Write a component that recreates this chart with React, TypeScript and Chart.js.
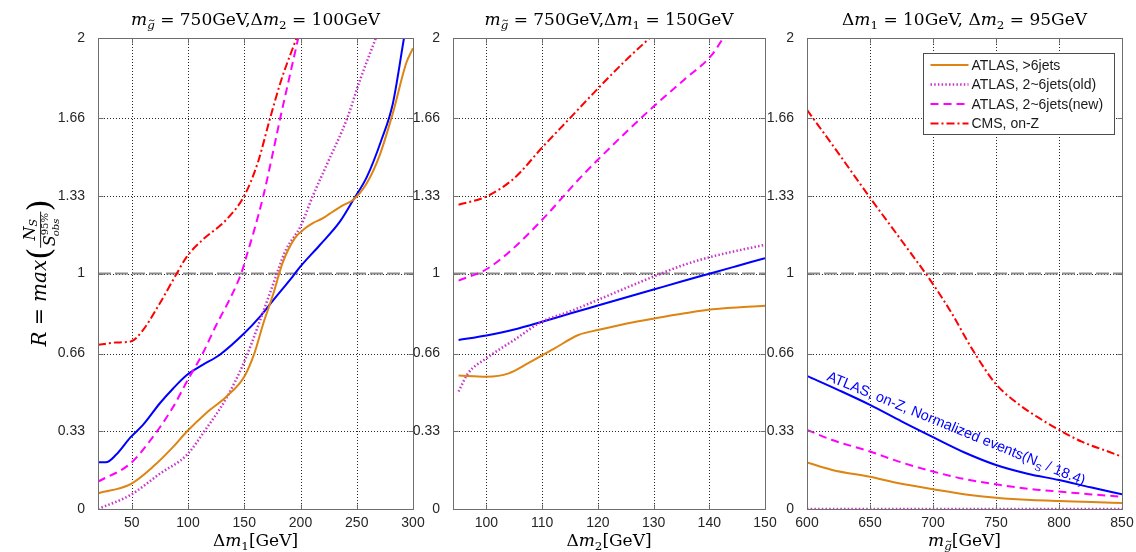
import React, { useEffect, useRef } from 'react';
import { Chart, registerables } from 'chart.js';
Chart.register(...registerables);

// ---------------- data ----------------
const SERIES_NAMES = ['ATLAS, >6jets', 'ATLAS, 2~6jets(old)', 'ATLAS, 2~6jets(new)', 'CMS, on-Z'];
const BLUE_TEXT_A = 'ATLAS, on-Z, Normalized events(N';
const BLUE_TEXT_SUB = 'S';
const BLUE_TEXT_B = ' / 18.4)';

const Y_TICKS = [0, 0.33, 0.66, 1, 1.33, 1.66, 2];
const Y_TICK_LABELS = ['0', '0.33', '0.66', '1', '1.33', '1.66', '2'];
const Y_LIMITS = [0, 2];
const R_THRESHOLD = [1, 1];

// Panel 1: m_gluino = 750 GeV, dm2 = 100 GeV, x = dm1
const P1_X_LIMITS = [20, 300];
const P1_X_TICKS = [50, 100, 150, 200, 250, 300];
const P1_ORANGE_X = [20, 49, 69, 87, 99, 116, 134, 150, 159, 167, 176, 184, 195, 205, 211, 220, 226, 238, 247, 259, 270, 282, 294, 300];
const P1_ORANGE_Y = [0.067, 0.106, 0.18, 0.265, 0.329, 0.407, 0.477, 0.562, 0.661, 0.789, 0.916, 1.044, 1.15, 1.195, 1.214, 1.235, 1.254, 1.29, 1.313, 1.384, 1.497, 1.68, 1.894, 1.957];
const P1_OLD_X = [20, 49, 75, 99, 116, 134, 150, 164, 176, 187, 200, 211, 224, 241, 253, 267];
const P1_OLD_Y = [0, 0.06, 0.15, 0.23, 0.34, 0.47, 0.625, 0.8, 0.959, 1.1, 1.2, 1.33, 1.469, 1.653, 1.823, 2.0];
const P1_NEW_X = [20, 49, 69, 87, 99, 113, 125, 137, 143, 148, 153, 158, 167, 174, 182, 190, 198];
const P1_NEW_Y = [0.116, 0.194, 0.307, 0.435, 0.541, 0.66, 0.78, 0.89, 0.95, 1.01, 1.09, 1.17, 1.33, 1.48, 1.66, 1.83, 2.0];
const P1_CMS_X = [20, 36, 49, 60, 75, 90, 99, 113, 134, 150, 162, 173, 183, 196.5];
const P1_CMS_Y = [0.697, 0.707, 0.711, 0.76, 0.874, 1.0, 1.072, 1.143, 1.228, 1.33, 1.47, 1.66, 1.823, 2.0];
const P1_BLUE_X = [20, 27, 36, 49, 60, 75, 87, 99, 113, 128, 150, 164, 176, 193, 200, 217, 235, 247, 259, 272, 282, 292];
const P1_BLUE_Y = [0.198, 0.198, 0.23, 0.305, 0.357, 0.449, 0.513, 0.569, 0.612, 0.654, 0.746, 0.817, 0.888, 0.987, 1.03, 1.12, 1.22, 1.313, 1.41, 1.568, 1.72, 2.0];

// Panel 2: m_gluino = 750 GeV, dm1 = 150 GeV, x = dm2
const P2_X_LIMITS = [94, 150];
const P2_X_TICKS = [100, 110, 120, 130, 140, 150];
const P2_ORANGE_X = [95, 100, 104, 107.5, 112.3, 116.5, 120.2, 125.4, 130.3, 135.6, 140.6, 150];
const P2_ORANGE_Y = [0.567, 0.562, 0.576, 0.619, 0.683, 0.739, 0.761, 0.789, 0.81, 0.831, 0.848, 0.863];
const P2_OLD_X = [95, 96.7, 100, 105, 110, 115, 120, 125, 130, 135.5, 140.5, 150];
const P2_OLD_Y = [0.499, 0.576, 0.64, 0.718, 0.796, 0.839, 0.888, 0.938, 0.987, 1.037, 1.072, 1.122];
const P2_NEW_X = [95, 100, 104.5, 110, 116.5, 120, 125.5, 130, 135.5, 140.5, 142.5];
const P2_NEW_Y = [0.97, 1.018, 1.1, 1.228, 1.398, 1.483, 1.61, 1.709, 1.823, 1.929, 2.0];
const P2_CMS_X = [95, 100, 105, 110, 115, 120, 125, 129.3];
const P2_CMS_Y = [1.292, 1.327, 1.405, 1.535, 1.66, 1.785, 1.905, 2.0];
const P2_BLUE_X = [95, 100, 105, 110, 115, 120, 125, 130, 135, 140, 145, 150];
const P2_BLUE_Y = [0.718, 0.737, 0.762, 0.795, 0.83, 0.864, 0.898, 0.932, 0.966, 0.999, 1.032, 1.065];

// Panel 3: dm1 = 10 GeV, dm2 = 95 GeV, x = m_gluino
const P3_X_LIMITS = [600, 850];
const P3_X_TICKS = [600, 650, 700, 750, 800, 850];
const P3_ORANGE_X = [600, 620, 650, 673, 700, 726, 750, 778, 800, 826, 850];
const P3_ORANGE_Y = [0.198, 0.166, 0.137, 0.109, 0.084, 0.062, 0.048, 0.038, 0.034, 0.03, 0.025];
const P3_OLD_X = [600, 650, 700, 750, 800, 850];
const P3_OLD_Y = [0, 0, 0, 0, 0, 0];
const P3_NEW_X = [600, 620, 650, 673, 700, 726, 750, 778, 800, 826, 850];
const P3_NEW_Y = [0.336, 0.293, 0.244, 0.201, 0.159, 0.126, 0.105, 0.084, 0.074, 0.062, 0.052];
const P3_CMS_X = [600, 625, 650, 675, 700, 715, 731, 750, 768, 786, 800, 818, 839, 850];
const P3_CMS_Y = [1.695, 1.51, 1.322, 1.14, 0.955, 0.83, 0.68, 0.53, 0.445, 0.38, 0.336, 0.286, 0.244, 0.222];
const P3_BLUE_X = [600, 625, 650, 675, 700, 725, 750, 775, 800, 825, 850];
const P3_BLUE_Y = [0.565, 0.505, 0.442, 0.372, 0.305, 0.24, 0.187, 0.15, 0.123, 0.092, 0.062];
const P3_BLUE_LABEL_AT = [615, 0.548];
const P3_BLUE_LABEL_ANGLE = 22.3;

// ---------------- styles ----------------
const STYLE: Record<string, { color: string; width: number; dash: number[] }> = {
  orange: { color: '#DE8412', width: 2, dash: [] },
  old: { color: '#C934C9', width: 2.5, dash: [1.5, 2.2] },
  neu: { color: '#FF00FF', width: 2, dash: [8, 5] },
  red: { color: '#FF0000', width: 2, dash: [8, 3, 2, 3] },
  blue: { color: '#0000FF', width: 2, dash: [] },
  gray: { color: '#8C8C8C', width: 2, dash: [13, 4] },
};
const LEGEND_KEYS = ['orange', 'old', 'neu', 'red'];

const SERIF = '"DejaVu Serif", "Liberation Serif", serif';
const SANS = '"Liberation Sans", Arial, sans-serif';
const TICK_COLOR = '#262626';
const AXIS_COLOR = '#6E6E6E';

type Seg = { t: string; it?: boolean; s?: number; dy?: number; tilde?: boolean };
const SUB = 0.7;
const SUBDY = 0.22;

const TITLE_1: Seg[] = [
  { t: 'm', it: true }, { t: 'g', it: true, s: SUB, dy: SUBDY, tilde: true },
  { t: ' = 750GeV,' }, { t: 'Δ' }, { t: 'm', it: true }, { t: '2', s: SUB, dy: SUBDY }, { t: ' = 100GeV' },
];
const TITLE_2: Seg[] = [
  { t: 'm', it: true }, { t: 'g', it: true, s: SUB, dy: SUBDY, tilde: true },
  { t: ' = 750GeV,' }, { t: 'Δ' }, { t: 'm', it: true }, { t: '1', s: SUB, dy: SUBDY }, { t: ' = 150GeV' },
];
const TITLE_3: Seg[] = [
  { t: 'Δ' }, { t: 'm', it: true }, { t: '1', s: SUB, dy: SUBDY }, { t: ' = 10GeV, ' },
  { t: 'Δ' }, { t: 'm', it: true }, { t: '2', s: SUB, dy: SUBDY }, { t: ' = 95GeV' },
];
const XLAB_1: Seg[] = [{ t: 'Δ' }, { t: 'm', it: true }, { t: '1', s: SUB, dy: SUBDY }, { t: '[GeV]' }];
const XLAB_2: Seg[] = [{ t: 'Δ' }, { t: 'm', it: true }, { t: '2', s: SUB, dy: SUBDY }, { t: '[GeV]' }];
const XLAB_3: Seg[] = [{ t: 'm', it: true }, { t: 'g', it: true, s: SUB, dy: SUBDY, tilde: true }, { t: '[GeV]' }];

function segFont(seg: Seg, base: number) {
  return `${seg.it ? 'italic ' : ''}${(seg.s ?? 1) * base}px ${SERIF}`;
}
function richWidth(ctx: CanvasRenderingContext2D, segs: Seg[], base: number) {
  let w = 0;
  for (const s of segs) {
    ctx.font = segFont(s, base);
    w += ctx.measureText(s.t).width;
  }
  return w;
}
function drawTilde(ctx: CanvasRenderingContext2D, cx: number, y: number, w: number, color: string) {
  const h = w * 0.22;
  ctx.save();
  ctx.strokeStyle = color;
  ctx.lineWidth = 0.9;
  ctx.beginPath();
  ctx.moveTo(cx - w / 2, y + h / 2);
  ctx.bezierCurveTo(cx - w / 6, y - h * 1.6, cx + w / 6, y + h * 1.6, cx + w / 2, y - h / 2);
  ctx.stroke();
  ctx.restore();
}
function drawRich(ctx: CanvasRenderingContext2D, segs: Seg[], x: number, y: number, base: number, color: string) {
  ctx.fillStyle = color;
  ctx.textAlign = 'left';
  ctx.textBaseline = 'alphabetic';
  let cx = x;
  for (const s of segs) {
    ctx.font = segFont(s, base);
    const w = ctx.measureText(s.t).width;
    const yy = y + (s.dy ?? 0) * base;
    ctx.fillText(s.t, cx, yy);
    if (s.tilde) {
      const size = (s.s ?? 1) * base;
      drawTilde(ctx, cx + w * 0.6, yy - size * 0.7, size * 0.45, color);
    }
    cx += w;
  }
  return cx;
}
function drawRichCentered(ctx: CanvasRenderingContext2D, segs: Seg[], cx: number, y: number, base: number, color: string) {
  const w = richWidth(ctx, segs, base);
  drawRich(ctx, segs, cx - w / 2, y, base, color);
}

function drawYLabel(ctx: CanvasRenderingContext2D, baseX: number, centerY: number) {
  const base = 20;
  const color = '#000';
  ctx.save();
  ctx.translate(baseX, centerY);
  ctx.rotate(-Math.PI / 2);
  const head: Seg[] = [{ t: 'R', it: true }, { t: ' = ' }, { t: 'max', it: true }];
  const num: Seg[] = [{ t: 'N', it: true, s: 0.8 }, { t: 'S', it: true, s: 0.55, dy: 0.14 }];
  const denS: Seg = { t: 'S', it: true, s: 0.8 };
  const sup: Seg = { t: '95%', s: 0.5 };
  const sub: Seg = { t: 'obs', it: true, s: 0.5 };
  const P = base * 1.55;
  ctx.font = `${P}px ${SERIF}`;
  const parW = ctx.measureText('(').width;
  const headW = richWidth(ctx, head, base);
  const numW = richWidth(ctx, num, base);
  ctx.font = segFont(denS, base);
  const sW = ctx.measureText('S').width;
  ctx.font = segFont(sup, base);
  const supW = ctx.measureText(sup.t).width;
  ctx.font = segFont(sub, base);
  const subW = ctx.measureText(sub.t).width;
  const denW = sW + Math.max(supW, subW);
  const fracW = Math.max(numW, denW) + 3;
  const total = headW + parW + fracW + parW;
  let x = -total / 2;
  const axis = -0.27 * base;
  drawRich(ctx, head, x, 0, base, color);
  x += headW;
  ctx.font = `${P}px ${SERIF}`;
  ctx.fillStyle = color;
  ctx.fillText('(', x, axis + 0.3 * P);
  x += parW;
  drawRich(ctx, num, x + (fracW - numW) / 2, axis - 0.3 * base, base, color);
  ctx.fillStyle = color;
  ctx.fillRect(x, axis - 0.4, fracW, 0.9);
  const dx = x + (fracW - denW) / 2;
  const denBase = axis + 0.72 * base;
  drawRich(ctx, [denS], dx, denBase, base, color);
  drawRich(ctx, [sup], dx + sW, denBase - 0.36 * base, base, color);
  drawRich(ctx, [sub], dx + sW - 1, denBase + 0.18 * base, base, color);
  x += fracW;
  ctx.font = `${P}px ${SERIF}`;
  ctx.fillStyle = color;
  ctx.fillText(')', x, axis + 0.3 * P);
  ctx.restore();
}

type Series = [number[], number[], string];
type Panel = {
  key: string; left: number; width: number; yAxisW: number; padR: number;
  xLim: number[]; xTicks: number[]; series: Series[]; title: Seg[]; xlabel: Seg[];
  ylabel?: boolean; legend?: boolean; blueLabel?: boolean;
};

const PANELS: Panel[] = [
  {
    key: 'p1', left: 0, width: 430, yAxisW: 98, padR: 17, xLim: P1_X_LIMITS, xTicks: P1_X_TICKS,
    series: [
      [P1_ORANGE_X, P1_ORANGE_Y, 'orange'], [P1_OLD_X, P1_OLD_Y, 'old'], [P1_NEW_X, P1_NEW_Y, 'neu'],
      [P1_CMS_X, P1_CMS_Y, 'red'], [P1_BLUE_X, P1_BLUE_Y, 'blue'],
    ],
    title: TITLE_1, xlabel: XLAB_1, ylabel: true,
  },
  {
    key: 'p2', left: 395, width: 385, yAxisW: 58, padR: 15, xLim: P2_X_LIMITS, xTicks: P2_X_TICKS,
    series: [
      [P2_ORANGE_X, P2_ORANGE_Y, 'orange'], [P2_OLD_X, P2_OLD_Y, 'old'], [P2_NEW_X, P2_NEW_Y, 'neu'],
      [P2_CMS_X, P2_CMS_Y, 'red'], [P2_BLUE_X, P2_BLUE_Y, 'blue'],
    ],
    title: TITLE_2, xlabel: XLAB_2,
  },
  {
    key: 'p3', left: 750, width: 386, yAxisW: 57, padR: 14, xLim: P3_X_LIMITS, xTicks: P3_X_TICKS,
    series: [
      [P3_ORANGE_X, P3_ORANGE_Y, 'orange'], [P3_OLD_X, P3_OLD_Y, 'old'], [P3_NEW_X, P3_NEW_Y, 'neu'],
      [P3_CMS_X, P3_CMS_Y, 'red'], [P3_BLUE_X, P3_BLUE_Y, 'blue'],
    ],
    title: TITLE_3, xlabel: XLAB_3, legend: true, blueLabel: true,
  },
];

function dataset(xs: number[], ys: number[], styleKey: string, label: string) {
  const st = STYLE[styleKey];
  return {
    label,
    data: xs.map((x, i) => ({ x, y: ys[i] })),
    borderColor: st.color,
    backgroundColor: st.color,
    borderWidth: st.width,
    borderDash: st.dash,
    borderCapStyle: 'butt' as const,
    pointRadius: 0,
    fill: false,
    cubicInterpolationMode: 'monotone' as const,
  };
}

function decorPlugin(p: Panel) {
  return {
    id: 'decor_' + p.key,
    beforeDatasetsDraw(chart: any) {
      const { ctx, chartArea: ca, scales } = chart;
      ctx.save();
      ctx.strokeStyle = '#262626';
      ctx.lineWidth = 1;
      ctx.setLineDash([1, 2]);
      for (const v of p.xTicks) {
        if (v <= p.xLim[0] || v >= p.xLim[1]) continue;
        const x = Math.round(scales.x.getPixelForValue(v)) + 0.5;
        ctx.beginPath(); ctx.moveTo(x, ca.top); ctx.lineTo(x, ca.bottom); ctx.stroke();
      }
      for (const v of Y_TICKS) {
        if (v <= Y_LIMITS[0] || v >= Y_LIMITS[1]) continue;
        const y = Math.round(scales.y.getPixelForValue(v)) + 0.5;
        ctx.beginPath(); ctx.moveTo(ca.left, y); ctx.lineTo(ca.right, y); ctx.stroke();
      }
      ctx.restore();
    },
    afterDatasetsDraw(chart: any) {
      const { ctx, chartArea: ca, scales } = chart;
      ctx.save();
      ctx.strokeStyle = AXIS_COLOR;
      ctx.lineWidth = 1;
      ctx.setLineDash([]);
      const l = Math.round(ca.left) + 0.5, r = Math.round(ca.right) + 0.5;
      const t = Math.round(ca.top) + 0.5, b = Math.round(ca.bottom) + 0.5;
      ctx.strokeRect(l, t, r - l, b - t);
      const TL = 5;
      ctx.beginPath();
      for (const v of p.xTicks) {
        const x = Math.round(scales.x.getPixelForValue(v)) + 0.5;
        ctx.moveTo(x, b); ctx.lineTo(x, b - TL);
        ctx.moveTo(x, t); ctx.lineTo(x, t + TL);
      }
      for (const v of Y_TICKS) {
        const y = Math.round(scales.y.getPixelForValue(v)) + 0.5;
        ctx.moveTo(l, y); ctx.lineTo(l + TL, y);
        ctx.moveTo(r, y); ctx.lineTo(r - TL, y);
      }
      ctx.stroke();

      if (p.blueLabel) {
        const px = scales.x.getPixelForValue(P3_BLUE_LABEL_AT[0]);
        const py = scales.y.getPixelForValue(P3_BLUE_LABEL_AT[1]);
        ctx.translate(px, py);
        ctx.rotate((P3_BLUE_LABEL_ANGLE * Math.PI) / 180);
        ctx.fillStyle = STYLE.blue.color;
        ctx.textAlign = 'left';
        ctx.textBaseline = 'alphabetic';
        ctx.font = `14.5px ${SANS}`;
        ctx.fillText(BLUE_TEXT_A, 0, 0);
        let w = ctx.measureText(BLUE_TEXT_A).width;
        ctx.font = `10px ${SANS}`;
        ctx.fillText(BLUE_TEXT_SUB, w, 4);
        w += ctx.measureText(BLUE_TEXT_SUB).width;
        ctx.font = `14.5px ${SANS}`;
        ctx.fillText(BLUE_TEXT_B, w, 0);
      }
      ctx.restore();

      if (p.legend) {
        ctx.save();
        const bw = 191, bh = 81;
        const bx = Math.round(ca.right - 8 - bw) + 0.5;
        const by = Math.round(ca.top + 15) + 0.5;
        ctx.fillStyle = '#fff';
        ctx.fillRect(bx, by, bw, bh);
        ctx.strokeStyle = '#4d4d4d';
        ctx.lineWidth = 1;
        ctx.strokeRect(bx, by, bw, bh);
        ctx.font = `14px ${SANS}`;
        ctx.textAlign = 'left';
        ctx.textBaseline = 'middle';
        LEGEND_KEYS.forEach((k, i) => {
          const st = STYLE[k];
          const yy = by + 11.5 + i * 19.5;
          ctx.strokeStyle = st.color;
          ctx.lineWidth = st.width;
          ctx.setLineDash(st.dash);
          ctx.beginPath(); ctx.moveTo(bx + 7, yy); ctx.lineTo(bx + 45, yy); ctx.stroke();
          ctx.setLineDash([]);
          ctx.fillStyle = '#1a1a1a';
          ctx.fillText(SERIES_NAMES[i], bx + 48, yy + 1);
        });
        ctx.restore();
      }
    },
    afterDraw(chart: any) {
      const { ctx, chartArea: ca } = chart;
      ctx.save();
      const cx = (ca.left + ca.right) / 2;
      drawRichCentered(ctx, p.title, cx, 25, 17, '#000');
      drawRichCentered(ctx, p.xlabel, cx, 546, 17, '#000');
      if (p.ylabel) drawYLabel(ctx, 46, 273);
      ctx.restore();
    },
  };
}

function PanelChart({ p }: { p: Panel }) {
  const ref = useRef<HTMLCanvasElement | null>(null);
  useEffect(() => {
    if (!ref.current) return;
    const datasets: any[] = p.series.map(([xs, ys, k], i) =>
      dataset(xs, ys, k, k === 'blue' ? 'ATLAS, on-Z' : SERIES_NAMES[i]));
    datasets.push(dataset(p.xLim, R_THRESHOLD, 'gray', 'R = 1'));
    const tickFont = { family: SANS, size: 14 };
    const chart = new Chart(ref.current, {
      type: 'line',
      data: { datasets },
      options: {
        animation: false,
        responsive: false,
        maintainAspectRatio: false,
        events: [],
        layout: { padding: { top: 38, right: p.padR, left: 0, bottom: 0 } },
        plugins: { legend: { display: false }, tooltip: { enabled: false }, title: { display: false } },
        scales: {
          x: {
            type: 'linear',
            min: p.xLim[0],
            max: p.xLim[1],
            afterBuildTicks: (s: any) => { s.ticks = p.xTicks.map((v) => ({ value: v })); },
            afterFit: (s: any) => { s.height = 43; },
            grid: { display: false },
            border: { display: false },
            ticks: {
              font: tickFont, color: TICK_COLOR, padding: -2, maxRotation: 0, autoSkip: false,
              callback: (v: any) => String(v),
            },
          },
          y: {
            type: 'linear',
            min: Y_LIMITS[0],
            max: Y_LIMITS[1],
            afterBuildTicks: (s: any) => { s.ticks = Y_TICKS.map((v) => ({ value: v })); },
            afterFit: (s: any) => { s.width = p.yAxisW; },
            grid: { display: false },
            border: { display: false },
            ticks: {
              font: tickFont, color: TICK_COLOR, padding: 5, autoSkip: false,
              callback: (_v: any, i: number) => Y_TICK_LABELS[i],
            },
          },
        },
      } as any,
      plugins: [decorPlugin(p)],
    });
    return () => chart.destroy();
  }, [p]);
  return (
    <canvas
      ref={ref}
      width={p.width}
      height={552}
      style={{ position: 'absolute', left: p.left, top: 0, width: p.width, height: 552 }}
    />
  );
}

export default function App() {
  return (
    <div style={{ position: 'absolute', left: 0, top: 0, width: 1136, height: 552, background: '#fff', overflow: 'hidden' }}>
      {PANELS.map((p) => (
        <PanelChart key={p.key} p={p} />
      ))}
    </div>
  );
}
